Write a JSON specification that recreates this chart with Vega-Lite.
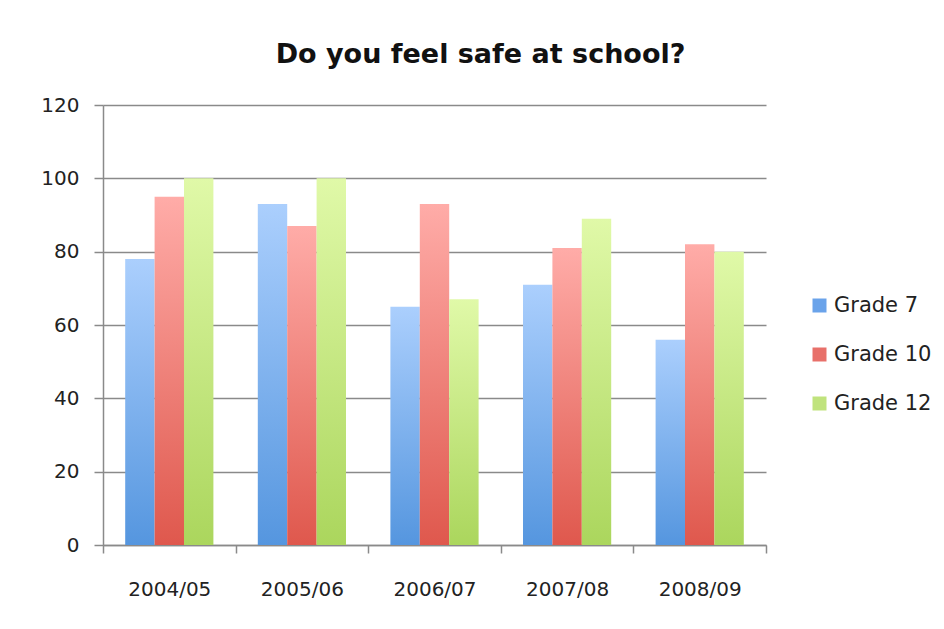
{
  "$schema": "https://vega.github.io/schema/vega-lite/v6.json",
  "width": 663,
  "height": 440,
  "autosize": {"type": "none"},
  "padding": {"left": 103, "top": 105, "right": 178, "bottom": 84},
  "background": "#ffffff",
  "title": {
    "text": "Do you feel safe at school?",
    "font": "DejaVu Sans",
    "fontSize": 27,
    "fontWeight": "bold",
    "color": "#111111",
    "anchor": "middle",
    "dx": 46,
    "offset": 26
  },
  "data": {
    "values": [
      {"year": "2004/05", "grade": "Grade 7", "pct": 78},
      {"year": "2004/05", "grade": "Grade 10", "pct": 95},
      {"year": "2004/05", "grade": "Grade 12", "pct": 100},
      {"year": "2005/06", "grade": "Grade 7", "pct": 93},
      {"year": "2005/06", "grade": "Grade 10", "pct": 87},
      {"year": "2005/06", "grade": "Grade 12", "pct": 100},
      {"year": "2006/07", "grade": "Grade 7", "pct": 65},
      {"year": "2006/07", "grade": "Grade 10", "pct": 93},
      {"year": "2006/07", "grade": "Grade 12", "pct": 67},
      {"year": "2007/08", "grade": "Grade 7", "pct": 71},
      {"year": "2007/08", "grade": "Grade 10", "pct": 81},
      {"year": "2007/08", "grade": "Grade 12", "pct": 89},
      {"year": "2008/09", "grade": "Grade 7", "pct": 56},
      {"year": "2008/09", "grade": "Grade 10", "pct": 82},
      {"year": "2008/09", "grade": "Grade 12", "pct": 80}
    ]
  },
  "mark": {"type": "bar", "strokeWidth": 0},
  "encoding": {
    "x": {
      "field": "year",
      "type": "nominal",
      "sort": null,
      "scale": {"paddingInner": 0, "paddingOuter": 0},
      "axis": {
        "title": null,
        "labelAngle": 0,
        "labelFont": "DejaVu Sans",
        "labelFontSize": 20,
        "labelColor": "#222222",
        "labelPadding": 26,
        "domainColor": "#8a8a8a",
        "domainWidth": 1.5,
        "tickColor": "#8a8a8a",
        "tickWidth": 1.5,
        "tickSize": 8,
        "tickBand": "extent",
        "grid": false
      }
    },
    "xOffset": {
      "field": "grade",
      "type": "nominal",
      "scale": {"domain": ["Grade 7", "Grade 10", "Grade 12"], "paddingInner": 0, "paddingOuter": 0.755}
    },
    "y": {
      "field": "pct",
      "type": "quantitative",
      "scale": {"domain": [0, 120], "nice": false},
      "axis": {
        "title": null,
        "values": [0, 20, 40, 60, 80, 100, 120],
        "labelFont": "DejaVu Sans",
        "labelFontSize": 20,
        "labelColor": "#222222",
        "labelPadding": 15,
        "domainColor": "#8a8a8a",
        "domainWidth": 1.5,
        "tickColor": "#8a8a8a",
        "tickWidth": 1.5,
        "tickSize": 9,
        "grid": true,
        "gridColor": "#8a8a8a",
        "gridWidth": 1.5
      }
    },
    "fill": {
      "condition": [
        {
          "test": "datum.grade === 'Grade 7'",
          "value": {
            "gradient": "linear", "x1": 0, "y1": 0, "x2": 0, "y2": 1,
            "stops": [{"offset": 0, "color": "#abcffd"}, {"offset": 1, "color": "#5596df"}]
          }
        },
        {
          "test": "datum.grade === 'Grade 10'",
          "value": {
            "gradient": "linear", "x1": 0, "y1": 0, "x2": 0, "y2": 1,
            "stops": [{"offset": 0, "color": "#ffaca8"}, {"offset": 1, "color": "#df584d"}]
          }
        },
        {
          "test": "datum.grade === 'Grade 12'",
          "value": {
            "gradient": "linear", "x1": 0, "y1": 0, "x2": 0, "y2": 1,
            "stops": [{"offset": 0, "color": "#e0f9a8"}, {"offset": 1, "color": "#abd65d"}]
          }
        }
      ],
      "field": "grade",
      "type": "nominal",
      "scale": {
        "domain": ["Grade 7", "Grade 10", "Grade 12"],
        "range": ["#6aa3ea", "#e8706a", "#c0e37d"]
      },
      "legend": {
        "title": null,
        "orient": "none",
        "legendX": 706,
        "legendY": 190,
        "padding": 0,
        "symbolType": "square",
        "symbolSize": 196,
        "symbolStrokeWidth": 0,
        "labelFont": "DejaVu Sans",
        "labelFontSize": 21,
        "labelColor": "#222222",
        "labelOffset": 4,
        "rowPadding": 27
      }
    }
  },
  "config": {
    "view": {"stroke": null}
  }
}
